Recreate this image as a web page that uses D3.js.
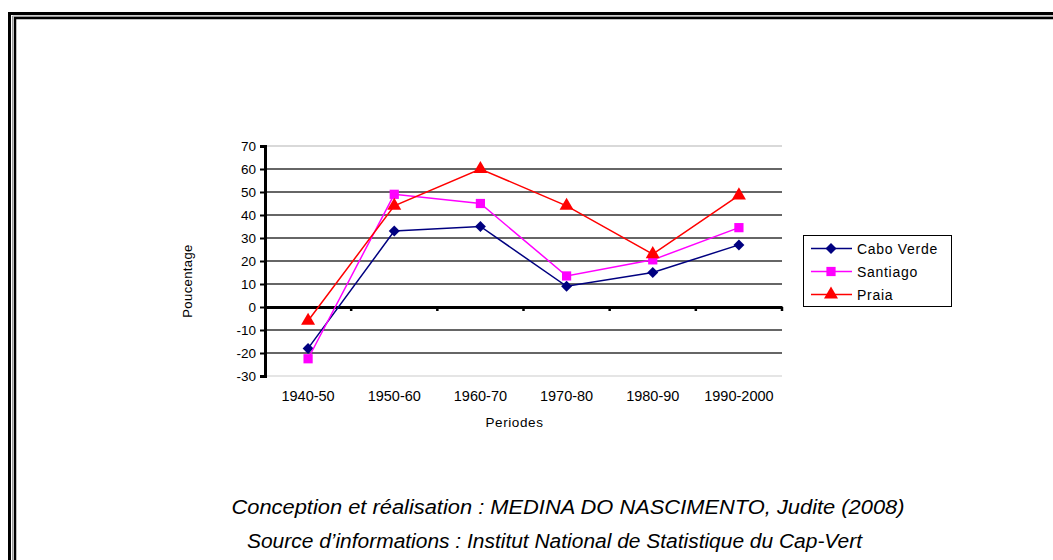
<!DOCTYPE html>
<html>
<head>
<meta charset="utf-8">
<script src="https://cdn.jsdelivr.net/npm/d3@7"></script>
<style>
  body { margin: 0; background: #fff; }
  svg { display: block; font-family: "Liberation Sans", Arial, sans-serif; }
</style>
</head>
<body>
<div class="chart"></div>
<script>
const periods = ["1940-50", "1950-60", "1960-70", "1970-80", "1980-90", "1990-2000"];
const caboVerde = [-18, 33, 35, 9, 15, 27];
const santiago = [-22.5, 49, 45, 13.5, 20.5, 34.5];
const praia = [-6, 44, 60, 44, 23, 48.5];
const yTicks = [-30, -20, -10, 0, 10, 20, 30, 40, 50, 60, 70];

// diamond drawn as a rotated square, Excel-style
const diamond = {
  draw(ctx, size) {
    const r = Math.sqrt(size / 2);
    ctx.moveTo(0, -r); ctx.lineTo(r, 0); ctx.lineTo(0, r); ctx.lineTo(-r, 0); ctx.closePath();
  }
};

const series = [
  { name: "Cabo Verde", values: caboVerde, color: "#000080", symbol: diamond, size: 60 },
  { name: "Santiago", values: santiago, color: "#ff00ff", symbol: d3.symbolSquare, size: 85 },
  { name: "Praia", values: praia, color: "#ff0000", symbol: d3.symbolTriangle, size: 85 }
];

const W = 1053, H = 560;
const margin = { top: 146, left: 265 };
const width = 517, height = 230;

const svg = d3.select(".chart").append("svg")
  .attr("width", W).attr("height", H);

// double frame
svg.append("path")
  .attr("d", `M9.5,${H} V13.5 H${W}`)
  .attr("fill", "none").attr("stroke", "#000").attr("stroke-width", 3);
svg.append("path")
  .attr("d", `M12.5,${H} V16 H${W}`)
  .attr("fill", "none").attr("stroke", "#999").attr("stroke-width", 1);
svg.append("path")
  .attr("d", `M15,${H} V18 H${W}`)
  .attr("fill", "none").attr("stroke", "#000").attr("stroke-width", 2.5);

const g = svg.append("g")
  .attr("transform", `translate(${margin.left},${margin.top})`);

const x = d3.scaleBand().domain(periods).range([0, width]);
const y = d3.scaleLinear().domain([-30, 70]).range([height, 0]);

// plot border top/bottom
g.append("line").attr("x1", 0).attr("x2", width).attr("y1", 0).attr("y2", 0)
  .attr("stroke", "#ccc").attr("stroke-width", 1.5);
g.append("line").attr("x1", 0).attr("x2", width).attr("y1", height).attr("y2", height)
  .attr("stroke", "#ddd").attr("stroke-width", 1.5);

// gridlines
g.selectAll(".grid")
  .data(yTicks.filter(t => t !== 0 && t !== 70 && t !== -30))
  .enter().append("line")
  .attr("class", "grid")
  .attr("x1", 0).attr("x2", width)
  .attr("y1", d => y(d)).attr("y2", d => y(d))
  .attr("stroke", "#333").attr("stroke-width", 1.5);

// y axis
const yAxis = g.append("g")
  .call(d3.axisLeft(y).tickValues(yTicks).tickSize(5).tickPadding(4).tickFormat(d => String(d)));
yAxis.select(".domain").attr("stroke-width", 3);
yAxis.selectAll(".tick line").attr("stroke-width", 2);
yAxis.selectAll("text").attr("font-size", 13.5).attr("fill", "#000")
  .attr("font-family", "Liberation Sans, Arial, sans-serif");

// zero axis with category ticks
const xAxis = g.append("g")
  .attr("transform", `translate(0,${y(0)})`)
  .call(d3.axisBottom(x).tickSize(0).tickFormat(""));
xAxis.select(".domain").attr("stroke-width", 3);
g.selectAll(".cat-tick")
  .data(periods.slice(1).concat(["end"]))
  .enter().append("line")
  .attr("class", "cat-tick")
  .attr("x1", (d, i) => i < periods.length - 1 ? x(d) : width)
  .attr("x2", (d, i) => i < periods.length - 1 ? x(d) : width)
  .attr("y1", y(0)).attr("y2", y(0) + 4)
  .attr("stroke", "#000").attr("stroke-width", 2.5);

// category labels below plot
g.selectAll(".cat-label")
  .data(periods)
  .enter().append("text")
  .attr("class", "cat-label")
  .attr("x", d => x(d) + x.bandwidth() / 2)
  .attr("y", height + 25)
  .attr("text-anchor", "middle")
  .attr("font-size", 14.5)
  .text(d => d);

// axis titles
g.append("text")
  .attr("x", width / 2 - 9)
  .attr("y", height + 51)
  .attr("text-anchor", "middle")
  .attr("font-size", 13.5)
  .attr("letter-spacing", 0.6)
  .text("Periodes");
g.append("text")
  .attr("transform", "rotate(-90)")
  .attr("x", -(281 - margin.top))
  .attr("y", -73)
  .attr("text-anchor", "middle")
  .attr("font-size", 13)
  .attr("letter-spacing", 0.4)
  .text("Poucentage");

// lines and markers
const line = d3.line()
  .x((d, i) => x(periods[i]) + x.bandwidth() / 2)
  .y(d => y(d));

series.forEach(s => {
  g.append("path")
    .datum(s.values)
    .attr("d", line)
    .attr("fill", "none")
    .attr("stroke", s.color)
    .attr("stroke-width", 1.5);
  g.selectAll(null)
    .data(s.values)
    .enter().append("path")
    .attr("transform", (d, i) => `translate(${x(periods[i]) + x.bandwidth() / 2},${y(d)})`)
    .attr("d", d3.symbol().type(s.symbol).size(s.size))
    .attr("fill", s.color);
});

// legend
const legend = svg.append("g").attr("transform", "translate(803,235)");
legend.append("rect")
  .attr("x", 0.5).attr("y", 0.5)
  .attr("width", 148).attr("height", 71)
  .attr("fill", "#fff").attr("stroke", "#000");
series.forEach((s, i) => {
  const row = legend.append("g").attr("transform", `translate(0,${13.5 + i * 23})`);
  row.append("line").attr("x1", 8).attr("x2", 49).attr("y1", 0).attr("y2", 0)
    .attr("stroke", s.color).attr("stroke-width", 1.5);
  row.append("path").attr("transform", "translate(28,0)")
    .attr("d", d3.symbol().type(s.symbol).size(s.size)).attr("fill", s.color);
  row.append("text").attr("x", 54).attr("y", 5).attr("font-size", 14)
    .attr("letter-spacing", 0.7).text(s.name);
});

// footer credits
svg.append("text")
  .attr("x", 568).attr("y", 514)
  .attr("text-anchor", "middle")
  .attr("font-size", 19.5).attr("font-style", "italic")
  .attr("textLength", 673).attr("lengthAdjust", "spacingAndGlyphs")
  .text("Conception et réalisation : MEDINA DO NASCIMENTO, Judite (2008)");
svg.append("text")
  .attr("x", 554.5).attr("y", 548)
  .attr("text-anchor", "middle")
  .attr("font-size", 19.5).attr("font-style", "italic")
  .attr("textLength", 615).attr("lengthAdjust", "spacingAndGlyphs")
  .text("Source d’informations : Institut National de Statistique du Cap-Vert");
</script>
</body>
</html>
